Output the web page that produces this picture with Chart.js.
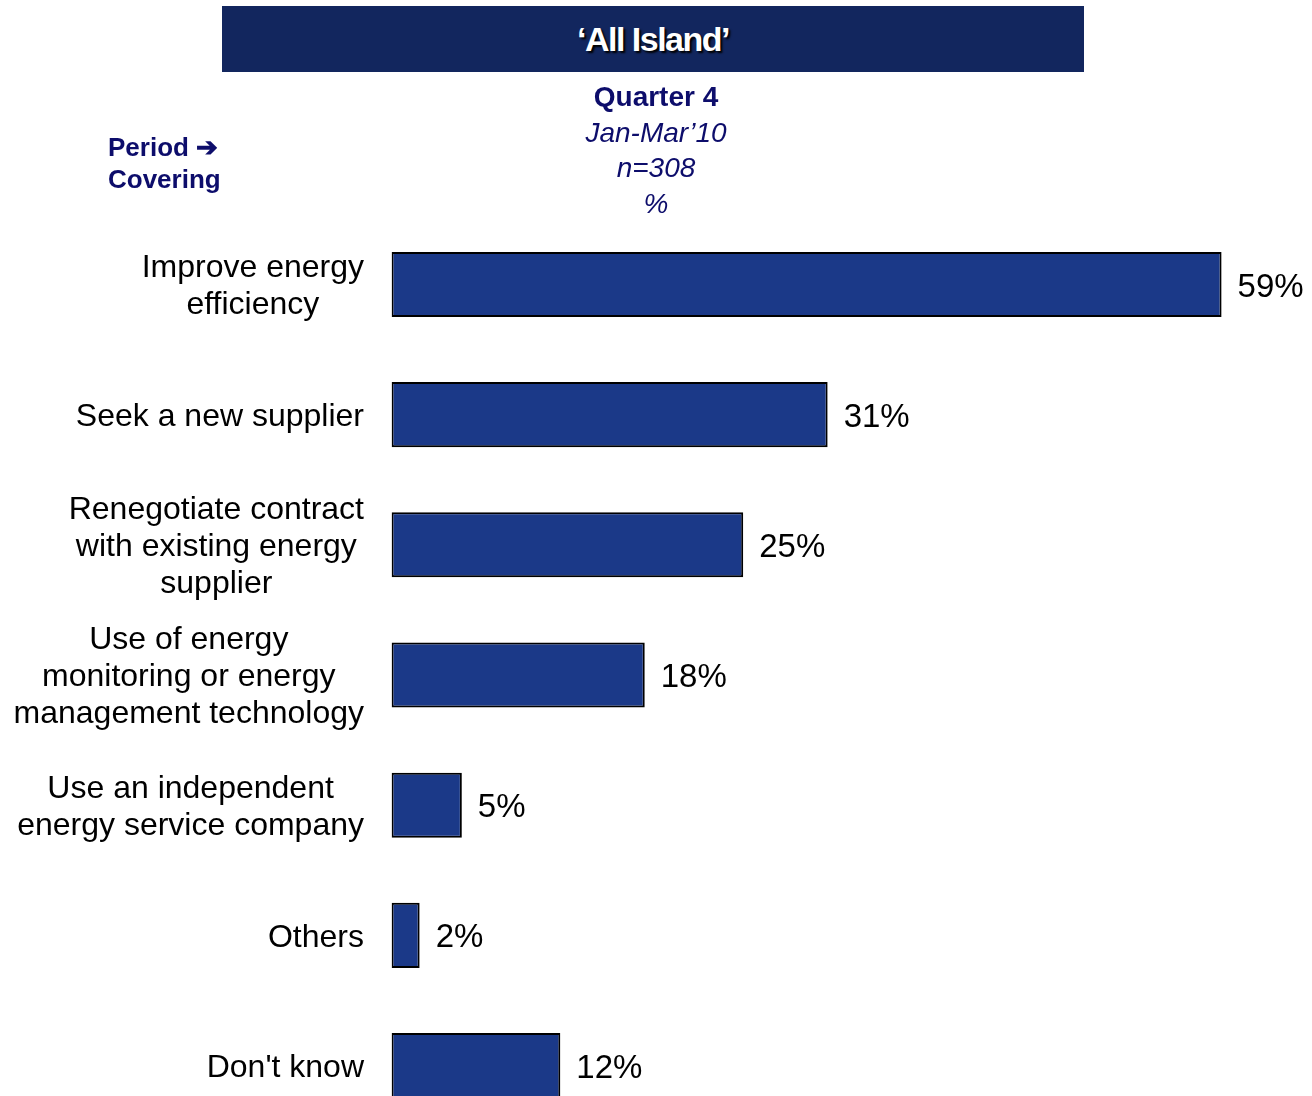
<!DOCTYPE html>
<html>
<head>
<meta charset="utf-8">
<title>All Island</title>
<script src="https://cdn.jsdelivr.net/npm/chart.js@4"></script>
<style>
  html, body { margin: 0; padding: 0; background: #fff; overflow: hidden; }
  body { width: 1312px; height: 1096px; position: relative; font-family: "Liberation Sans", Arial, sans-serif; }
  .banner { position: absolute; left: 222px; top: 6px; width: 862px; height: 66px; background: #12265e;
            color: #fff; font-weight: bold; font-size: 34px; letter-spacing: -1.5px; text-align: center; line-height: 66px;
            text-shadow: 2px 2px 2px #000; }
  .period { position: absolute; left: 108px; top: 131px; color: #0d0d6b; font-weight: bold; font-size: 26px; line-height: 32px; }
  .head { position: absolute; left: 456px; width: 400px; top: 79px; text-align: center; color: #0d0d6b; font-size: 28px; line-height: 35.5px; }
  .head i { display: block; }
  .head b { display: block; }
  #chart { position: absolute; left: 0; top: 0; }
</style>
</head>
<body>
<canvas id="chart" width="1312" height="1140"></canvas>
<div class="banner">‘All Island’</div>
<div class="period">Period ➔<br>Covering</div>
<div class="head"><b>Quarter 4</b><i>Jan-Mar’10</i><i>n=308</i><i>%</i></div>
<script>
// answers (each label split into its display lines)
const categories = [
  ["Improve energy", "efficiency"],
  ["Seek a new supplier"],
  ["Renegotiate contract", "with existing energy", "supplier"],
  ["Use of energy", "monitoring or energy", "management technology"],
  ["Use an independent", "energy service company"],
  ["Others"],
  ["Don't know"]
];
const values = [59, 31, 25, 18, 5, 2, 12];

const FONT = '"Liberation Sans", Arial, sans-serif';

// category labels: block right-aligned to the axis, lines centred inside the block
const sideLabels = {
  id: 'sideLabels',
  afterDraw(chart) {
    const ctx = chart.ctx;
    const y = chart.scales.y;
    ctx.save();
    ctx.font = '32px ' + FONT;
    ctx.fillStyle = '#000';
    ctx.textAlign = 'center';
    ctx.textBaseline = 'middle';
    const lh = 37;
    categories.forEach((lines, i) => {
      const w = Math.max(...lines.map(l => ctx.measureText(l).width));
      const cx = 364 - w / 2;
      const cy = y.getPixelForValue(i) + 2.5;
      lines.forEach((l, k) => {
        ctx.fillText(l, cx, cy + (k - (lines.length - 1) / 2) * lh);
      });
    });
    ctx.restore();
  }
};

// value labels right of each bar
const valueLabels = {
  id: 'valueLabels',
  afterDatasetsDraw(chart) {
    const ctx = chart.ctx;
    const meta = chart.getDatasetMeta(0);
    ctx.save();
    ctx.font = '33px ' + FONT;
    ctx.fillStyle = '#000';
    ctx.textAlign = 'left';
    ctx.textBaseline = 'middle';
    meta.data.forEach((bar, i) => {
      ctx.fillText(values[i] + '%', bar.x + 16, bar.y + 3);
    });
    ctx.restore();
  }
};

new Chart(document.getElementById('chart'), {
  type: 'bar',
  data: {
    labels: categories,
    datasets: [{
      data: values,
      backgroundColor: '#1b3988',
      borderColor: '#000',
      borderWidth: 2,
      borderSkipped: false,
      categoryPercentage: 1,
      barPercentage: 0.5
    }]
  },
  options: {
    indexAxis: 'y',
    responsive: false,
    animation: false,
    devicePixelRatio: 1,
    layout: { padding: { left: 391.5, right: 6, top: 219.4, bottom: 9.4 } },
    plugins: { legend: { display: false }, tooltip: { enabled: false } },
    scales: {
      x: { display: false, min: 0, max: 65 },
      y: { display: false }
    }
  },
  plugins: [sideLabels, valueLabels]
});
</script>
</body>
</html>
